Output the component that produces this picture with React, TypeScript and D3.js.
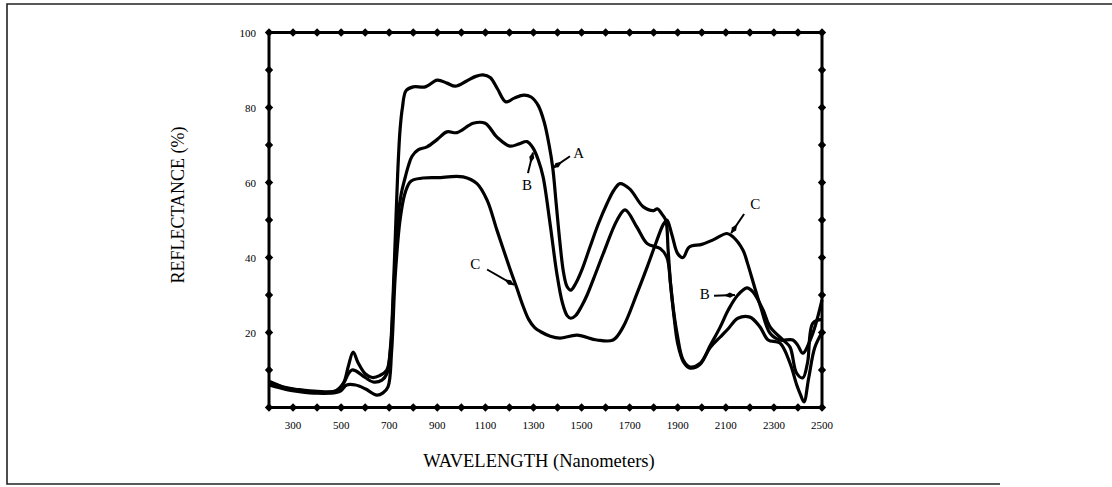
import React from "react";
import * as d3 from "d3";

// ---- data (wavelength in nm, reflectance in %) ----
const aWavelength = [200, 230, 270, 320, 400, 480, 510, 530, 550, 570, 600, 630, 660, 690, 705, 715, 725, 735, 745, 755, 770, 800, 850, 900, 940, 975, 1020, 1060, 1090, 1120, 1150, 1185, 1220, 1260, 1290, 1320, 1345, 1365, 1380, 1395, 1410, 1425, 1440, 1455, 1475, 1500, 1535, 1570, 1606, 1635, 1660, 1700, 1757, 1800, 1815, 1835, 1850, 1860, 1870, 1880, 1897, 1922, 1951, 1993, 2035, 2077, 2110, 2150, 2200, 2242, 2276, 2325, 2367, 2395, 2410, 2425, 2445, 2470, 2500];
const aReflectance = [7.0, 6.2, 5.3, 4.8, 4.3, 4.5, 6.5, 11, 14.8, 12, 9, 8, 8.5, 10, 16, 28, 45, 62, 74, 80, 84.5, 85.5, 85.5, 87.3, 86.5, 85.7, 87, 88.3, 88.7, 88, 85, 81.5, 82.5, 83.3, 82.8, 80.5, 76, 70, 64, 54, 44, 36, 32.2, 31.3, 33, 36.5, 42.8, 49, 54.4, 58, 59.7, 58.3, 53.5, 52.5, 53, 51.5, 50, 42, 33, 27, 19.8, 12.7, 10.8, 11.8, 16, 18.8, 21, 23.8, 24.1, 21.5, 18, 17.2, 11.8, 6, 3.5, 1.5, 8, 16, 20];

const bWavelength = [200, 230, 270, 320, 400, 480, 510, 530, 545, 560, 600, 633, 670, 690, 705, 720, 735, 750, 765, 780, 795, 820, 857, 900, 940, 982, 1049, 1099, 1148, 1202, 1240, 1273, 1298, 1320, 1340, 1369, 1397, 1420, 1440, 1455, 1475, 1500, 1523, 1560, 1590, 1648, 1681, 1731, 1773, 1827, 1855, 1870, 1885, 1900, 1925, 1951, 1993, 2035, 2077, 2110, 2150, 2188, 2213, 2255, 2284, 2338, 2367, 2394, 2420, 2440, 2462, 2500];
const bReflectance = [6.5, 6, 5.2, 4.6, 4, 4.5, 6.5, 9, 10, 9.8, 8, 6.8, 7.3, 9, 15, 33, 50, 57, 61, 64.5, 67, 68.7, 69.5, 71.5, 73.5, 73.3, 75.8, 75.8, 72.1, 69.7, 70.3, 70.9, 69.2, 66, 61.5, 49, 35.8, 28, 24.5, 23.8, 24.5, 27, 30, 36, 41, 50, 52.7, 48, 43.7, 42.4, 40, 33, 24, 17, 12, 10.5, 11.5, 16.5, 21.5, 26, 30, 31.9, 30.8, 26, 21.5, 18, 16.1, 9.2, 7.9, 12, 22.5, 23.5];

const cWavelength = [200, 230, 270, 320, 400, 480, 500, 523, 560, 600, 649, 674, 695, 710, 725, 745, 765, 785, 800, 841, 900, 1007, 1065, 1107, 1148, 1202, 1230, 1257, 1280, 1305, 1330, 1370, 1410, 1481, 1564, 1631, 1673, 1731, 1773, 1810, 1839, 1855, 1876, 1900, 1922, 1948, 2000, 2047, 2105, 2130, 2171, 2190, 2220, 2245, 2284, 2325, 2379, 2400, 2420, 2459, 2500];
const cReflectance = [6, 5.5, 4.8, 4.3, 3.8, 4.0, 4.5, 6, 6, 5, 3.3, 3.9, 5.5, 15, 35, 50, 57, 60, 60.7, 61.2, 61.3, 61.5, 59.7, 55.3, 47.3, 37, 32, 27, 23.5, 21.3, 20.2, 19, 18.5, 19.3, 18, 18, 21.5, 30.5, 37.5, 44, 48.7, 50, 46, 41, 40, 42.8, 43.5, 44.7, 46.4, 45.5, 42, 38.5, 32, 26.8, 19.8, 18, 18, 16.5, 14.5, 19.3, 28.7];

const xTickLabels = [300, 500, 700, 900, 1100, 1300, 1500, 1700, 1900, 2100, 2300, 2500];
const yTickLabels = [20, 40, 60, 80, 100];

// annotation labels (data space)
const annotationText = ["A", "B", "C", "C", "B"];
const annotationLabel = [[1488, 68], [1273, 59.3], [1058, 38.3], [2222, 54.3], [2012, 30.2]];
const annotationFrom = [[1452, 67], [1277, 62.5], [1107, 36.8], [2176, 51.6], [2051, 29.8]];
const annotationTip = [[1381, 63.9], [1298, 68], [1219, 32.7], [2122, 46.5], [2138, 30]];

const W = 1112;
const H = 487;
const x = d3.scaleLinear().domain([200, 2500]).range([269, 822]);
const y = d3.scaleLinear().domain([0, 100]).range([407.5, 32.5]);

const line = d3
  .line<[number, number]>()
  .x((d) => x(d[0]))
  .y((d) => y(d[1]))
  .curve(d3.curveCatmullRom.alpha(0.5));

const zip = (a: number[], b: number[]) => a.map((v, i) => [v, b[i]] as [number, number]);
const series = [zip(aWavelength, aReflectance), zip(bWavelength, bReflectance), zip(cWavelength, cReflectance)];

const diamond = d3.symbol().type(d3.symbolDiamond2).size(45)() as string;
const xMarks = d3.range(200, 2501, 100);
const yMarks = d3.range(10, 100, 10);

function arrowHead(fx: number, fy: number, tx: number, ty: number) {
  const dx = tx - fx;
  const dy = ty - fy;
  const len = Math.hypot(dx, dy);
  const ux = dx / len;
  const uy = dy / len;
  const px = -uy;
  const py = ux;
  const bx = tx - ux * 11;
  const by = ty - uy * 11;
  const mx = tx - ux * 5;
  const my = ty - uy * 5;
  return `M${tx},${ty}L${mx + px * 2.6},${my + py * 2.6}L${bx},${by}L${mx - px * 2.6},${my - py * 2.6}Z`;
}

export default function App() {
  const serif = "'Liberation Serif', 'Times New Roman', serif";
  return (
    <svg
      width={W}
      height={H}
      style={{ position: "absolute", left: 0, top: 0, background: "#fff" }}
      xmlns="http://www.w3.org/2000/svg"
    >
      {/* outer page frame */}
      <path d={`M1112,4H7V484H1000`} fill="none" stroke="#222" strokeWidth={1.6} />

      {/* curves */}
      {series.map((s, i) => (
        <path key={i} d={line(s) as string} fill="none" stroke="#000" strokeWidth={3.2} strokeLinejoin="round" />
      ))}

      {/* plot box */}
      <rect x={x(200)} y={y(100)} width={x(2500) - x(200)} height={y(0) - y(100)} fill="none" stroke="#000" strokeWidth={3} />

      {/* diamond markers */}
      {xMarks.map((w) => (
        <g key={"xm" + w}>
          <path d={diamond} transform={`translate(${x(w)},${y(0)})`} fill="#000" />
          <path d={diamond} transform={`translate(${x(w)},${y(100)})`} fill="#000" />
        </g>
      ))}
      {yMarks.map((v) => (
        <g key={"ym" + v}>
          <path d={diamond} transform={`translate(${x(200)},${y(v)})`} fill="#000" />
          <path d={diamond} transform={`translate(${x(2500)},${y(v)})`} fill="#000" />
        </g>
      ))}

      {/* tick labels */}
      {xTickLabels.map((t) => (
        <text key={"xt" + t} x={x(t)} y={y(0) + 21} fontFamily={serif} fontSize={11} textAnchor="middle" fill="#000">
          {t}
        </text>
      ))}
      {yTickLabels.map((t) => (
        <text key={"yt" + t} x={x(200) - 13} y={y(t) + 4} fontFamily={serif} fontSize={11} textAnchor="end" fill="#000">
          {t}
        </text>
      ))}

      {/* annotations */}
      {annotationText.map((t, i) => {
        const fx = x(annotationFrom[i][0]);
        const fy = y(annotationFrom[i][1]);
        const tx = x(annotationTip[i][0]);
        const ty = y(annotationTip[i][1]);
        return (
          <g key={"an" + i}>
            <line x1={fx} y1={fy} x2={tx} y2={ty} stroke="#000" strokeWidth={2} />
            <path d={arrowHead(fx, fy, tx, ty)} fill="#000" />
            <text
              x={x(annotationLabel[i][0])}
              y={y(annotationLabel[i][1]) + 5}
              fontFamily={serif}
              fontSize={15}
              textAnchor="middle"
              fill="#000"
            >
              {t}
            </text>
          </g>
        );
      })}

      {/* axis titles */}
      <text x={539} y={467} fontFamily={serif} fontSize={18.5} textAnchor="middle" fill="#000">
        WAVELENGTH (Nanometers)
      </text>
      <text
        transform={`translate(184,205) rotate(-90)`}
        fontFamily={serif}
        fontSize={18}
        textAnchor="middle"
        fill="#000"
      >
        REFLECTANCE (%)
      </text>
    </svg>
  );
}
